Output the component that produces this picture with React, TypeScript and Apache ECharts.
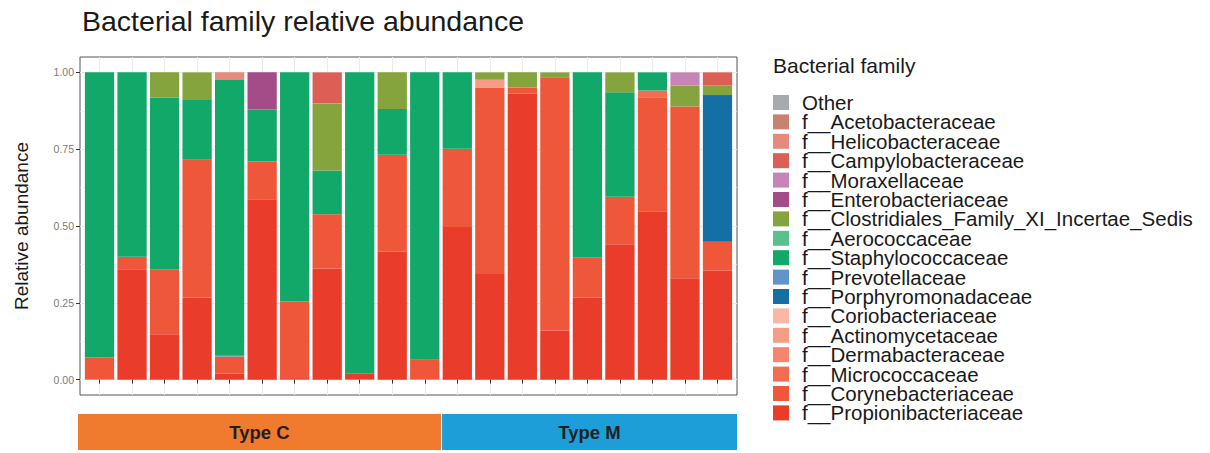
import React, { useEffect, useRef } from "react";
import * as echarts from "echarts";

// ---- data ----
const samples = [
  "C1", "C2", "C3", "C4", "C5", "C6", "C7", "C8", "C9", "C10", "C11",
  "M1", "M2", "M3", "M4", "M5", "M6", "M7", "M8", "M9",
];
const groupLabels = ["Type C", "Type M"];
const groupSizes = [11, 9];

const yTicks = [0, 0.25, 0.5, 0.75, 1];
const yMinorTicks = [0.125, 0.375, 0.625, 0.875];

const propionibacteriaceae = [0, 0.359, 0.148, 0.267, 0.02, 0.587, 0.005, 0.362, 0.019, 0.416, 0, 0.497, 0.344, 0.93, 0.16, 0.267, 0.441, 0.548, 0.33, 0.355];
const corynebacteriaceae = [0.072, 0.041, 0.211, 0.449, 0.055, 0.123, 0.249, 0.176, 0, 0.316, 0.065, 0.254, 0.607, 0.021, 0.824, 0.131, 0.154, 0.371, 0.559, 0.094];
const micrococcaceae = [0, 0, 0, 0, 0, 0, 0, 0, 0, 0, 0, 0, 0, 0, 0, 0, 0, 0.022, 0, 0];
const dermabacteraceae = [0, 0, 0, 0, 0, 0, 0, 0, 0, 0, 0, 0, 0, 0, 0, 0, 0, 0, 0, 0];
const actinomycetaceae = [0, 0, 0, 0, 0, 0, 0, 0, 0, 0, 0, 0, 0.025, 0, 0, 0, 0, 0, 0, 0];
const coriobacteriaceae = [0, 0, 0, 0, 0, 0, 0, 0, 0, 0, 0, 0, 0, 0, 0, 0, 0, 0, 0, 0];
const porphyromonadaceae = [0, 0, 0, 0, 0, 0, 0, 0, 0, 0, 0, 0, 0, 0, 0, 0, 0, 0, 0, 0.477];
const prevotellaceae = [0, 0, 0, 0, 0.005, 0, 0, 0, 0, 0, 0, 0, 0, 0, 0, 0, 0, 0, 0, 0];
const staphylococcaceae = [0.928, 0.6, 0.558, 0.194, 0.895, 0.169, 0.746, 0.143, 0.981, 0.149, 0.935, 0.249, 0, 0, 0, 0.602, 0.34, 0.059, 0, 0];
const aerococcaceae = [0, 0, 0, 0, 0, 0, 0, 0, 0, 0, 0, 0, 0, 0, 0, 0, 0, 0, 0, 0];
const clostridiales = [0, 0, 0.083, 0.09, 0, 0, 0, 0.218, 0, 0.119, 0, 0, 0.024, 0.049, 0.016, 0, 0.065, 0, 0.068, 0.031];
const enterobacteriaceae = [0, 0, 0, 0, 0, 0.121, 0, 0, 0, 0, 0, 0, 0, 0, 0, 0, 0, 0, 0, 0];
const moraxellaceae = [0, 0, 0, 0, 0, 0, 0, 0, 0, 0, 0, 0, 0, 0, 0, 0, 0, 0, 0.043, 0];
const campylobacteraceae = [0, 0, 0, 0, 0, 0, 0, 0.101, 0, 0, 0, 0, 0, 0, 0, 0, 0, 0, 0, 0.043];
const helicobacteraceae = [0, 0, 0, 0, 0.025, 0, 0, 0, 0, 0, 0, 0, 0, 0, 0, 0, 0, 0, 0, 0];
const acetobacteraceae = [0, 0, 0, 0, 0, 0, 0, 0, 0, 0, 0, 0, 0, 0, 0, 0, 0, 0, 0, 0];
const other = [0, 0, 0, 0, 0, 0, 0, 0, 0, 0, 0, 0, 0, 0, 0, 0, 0, 0, 0, 0];

// bottom of stack first
const families: [string, number[]][] = [
  ["f__Propionibacteriaceae", propionibacteriaceae],
  ["f__Corynebacteriaceae", corynebacteriaceae],
  ["f__Micrococcaceae", micrococcaceae],
  ["f__Dermabacteraceae", dermabacteraceae],
  ["f__Actinomycetaceae", actinomycetaceae],
  ["f__Coriobacteriaceae", coriobacteriaceae],
  ["f__Porphyromonadaceae", porphyromonadaceae],
  ["f__Prevotellaceae", prevotellaceae],
  ["f__Staphylococcaceae", staphylococcaceae],
  ["f__Aerococcaceae", aerococcaceae],
  ["f__Clostridiales_Family_XI_Incertae_Sedis", clostridiales],
  ["f__Enterobacteriaceae", enterobacteriaceae],
  ["f__Moraxellaceae", moraxellaceae],
  ["f__Campylobacteraceae", campylobacteraceae],
  ["f__Helicobacteraceae", helicobacteraceae],
  ["f__Acetobacteraceae", acetobacteraceae],
  ["Other", other],
];

// ---- styles ----
const familyColors: Record<string, string> = {
  "f__Propionibacteriaceae": "#E93C2B",
  "f__Corynebacteriaceae": "#EF573A",
  "f__Micrococcaceae": "#F26D52",
  "f__Dermabacteraceae": "#F5856D",
  "f__Actinomycetaceae": "#F79C87",
  "f__Coriobacteriaceae": "#F9B7A6",
  "f__Porphyromonadaceae": "#146FA5",
  "f__Prevotellaceae": "#6194C9",
  "f__Staphylococcaceae": "#12A86A",
  "f__Aerococcaceae": "#5BC08E",
  "f__Clostridiales_Family_XI_Incertae_Sedis": "#86A43E",
  "f__Enterobacteriaceae": "#A34C87",
  "f__Moraxellaceae": "#C785B7",
  "f__Campylobacteraceae": "#DC5E55",
  "f__Helicobacteraceae": "#E88A7B",
  "f__Acetobacteraceae": "#C68470",
  "Other": "#A7AAAE",
};
const groupColors = ["#F07A2E", "#1E9ED9"];
const FONT = "'Liberation Sans', Arial, Helvetica, sans-serif";

// panel geometry (ggplot-like: 0.6 category expansion on each side)
const PANEL_LEFT = 80;
const PANEL_WIDTH = 657;
const PANEL_TOP = 57;
const PANEL_HEIGHT = 338;

export default function App() {
  const ref = useRef<HTMLDivElement>(null);

  useEffect(() => {
    if (!ref.current) return;
    const chart = echarts.init(ref.current, undefined, { renderer: "svg" });
    const n = samples.length;
    const positions = samples.map((_, i) => i + 1);
    const unit = PANEL_WIDTH / (n + 0.2);

    const series: any[] = families.map(([name, values]) => ({
      name,
      type: "bar",
      stack: "total",
      xAxisIndex: 1,
      yAxisIndex: 2,
      barWidth: "90%",
      itemStyle: { color: familyColors[name] },
      emphasis: { disabled: true },
      data: values,
    }));

    chart.setOption({
      animation: false,
      textStyle: { fontFamily: FONT },
      title: [
        {
          text: "Bacterial family relative abundance",
          left: 82,
          top: 6,
          padding: 0,
          textStyle: { fontSize: 28.5, fontWeight: "normal", color: "#1a1a1a", fontFamily: FONT },
        },
        {
          text: "Bacterial family",
          left: 773,
          top: 55,
          padding: 0,
          textStyle: { fontSize: 21, fontWeight: "normal", color: "#1a1a1a", fontFamily: FONT },
        },
      ],
      legend: {
        orient: "vertical",
        left: 773,
        top: 92,
        height: 360,
        padding: 0,
        itemWidth: 16,
        itemHeight: 15,
        itemGap: -1.6,
        icon: "rect",
        selectedMode: false,
        data: families.map(([nm]) => nm).reverse(),
        textStyle: {
          fontSize: 20.5,
          color: "#1a1a1a",
          fontFamily: FONT,
          padding: [0, 0, 0, 8],
        },
      },
      grid: [
        {
          left: PANEL_LEFT,
          top: PANEL_TOP,
          width: PANEL_WIDTH,
          height: PANEL_HEIGHT,
          show: true,
          backgroundColor: "#ffffff",
          borderColor: "#555555",
          borderWidth: 1,
        },
        {
          left: PANEL_LEFT + 0.1 * unit,
          top: PANEL_TOP,
          width: n * unit,
          height: PANEL_HEIGHT,
        },
      ],
      xAxis: [
        {
          type: "value",
          gridIndex: 0,
          min: 0.4,
          max: n + 0.6,
          axisLine: { show: false },
          axisLabel: { show: false },
          axisTick: {
            show: true,
            length: 4,
            customValues: positions,
            lineStyle: { color: "#333333", width: 1 },
          },
          splitLine: { show: true, lineStyle: { color: "#EBEBEB", width: 1 } },
        },
        {
          type: "category",
          gridIndex: 1,
          data: samples,
          boundaryGap: true,
          axisLine: { show: false },
          axisLabel: { show: false },
          axisTick: { show: false },
          splitLine: { show: false },
        },
      ],
      yAxis: [
        {
          type: "value",
          gridIndex: 0,
          min: -0.05,
          max: 1.05,
          name: "Relative abundance",
          nameLocation: "middle",
          nameRotate: 90,
          nameGap: 49,
          nameTextStyle: { fontSize: 19, color: "#1a1a1a", fontFamily: FONT },
          axisLine: { show: false },
          axisTick: {
            show: true,
            length: 4,
            customValues: yTicks,
            lineStyle: { color: "#333333", width: 1 },
          },
          axisLabel: {
            show: true,
            customValues: yTicks,
            margin: 6,
            fontSize: 10.5,
            color: "#7a7a7a",
            fontFamily: FONT,
            formatter: (v: number) => v.toFixed(2),
          },
          splitLine: { show: true, lineStyle: { color: "#EBEBEB", width: 1 } },
        },
        {
          type: "value",
          gridIndex: 0,
          min: -0.05,
          max: 1.05,
          position: "right",
          axisLine: { show: false },
          axisLabel: { show: false },
          axisTick: { show: false, customValues: yMinorTicks },
          splitLine: { show: true, lineStyle: { color: "#F4F4F4", width: 0.6 } },
        },
        {
          type: "value",
          gridIndex: 1,
          min: -0.05,
          max: 1.05,
          axisLine: { show: false },
          axisLabel: { show: false },
          axisTick: { show: false },
          splitLine: { show: false },
        },
      ],
      series,
    });

    // Group annotation bands under the axis, placed via the x scale
    const bandTop = 414;
    const bandH = 36;
    const elems: any[] = [];
    let start = 0;
    groupSizes.forEach((size, gi) => {
      const from = start === 0 ? 0.4 : start + 0.5;
      const to = start + size === n ? n + 0.6 : start + size + 0.5;
      const x0 = chart.convertToPixel({ xAxisIndex: 0 }, from) as number;
      const x1 = chart.convertToPixel({ xAxisIndex: 0 }, to) as number;
      const left = gi === 0 ? x0 - 2 : x0 + 1;
      const right = x1;
      elems.push({
        type: "rect",
        shape: { x: left, y: bandTop, width: right - left, height: bandH },
        style: { fill: groupColors[gi] },
        silent: true,
      });
      elems.push({
        type: "text",
        x: (left + right) / 2,
        y: bandTop + bandH / 2,
        style: {
          text: groupLabels[gi],
          fill: "#1f1f1f",
          font: `bold 18.5px ${FONT}`,
          align: "center",
          verticalAlign: "middle",
        },
        silent: true,
      });
      start += size;
    });
    chart.setOption({ graphic: elems });

    return () => chart.dispose();
  }, []);

  return (
    <div
      ref={ref}
      style={{ position: "fixed", left: 0, top: 0, width: 1210, height: 453, background: "#ffffff" }}
    />
  );
}
